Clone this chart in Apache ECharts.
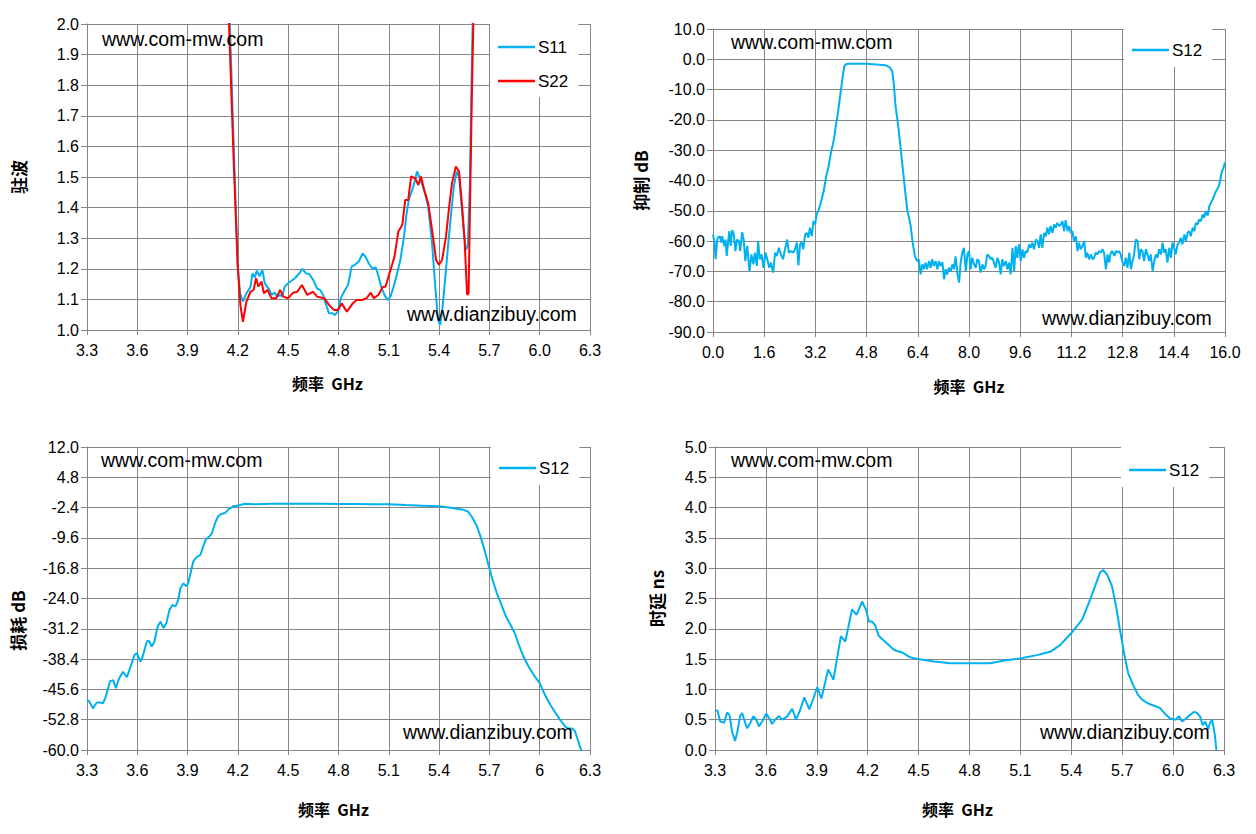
<!DOCTYPE html>
<html><head><meta charset="utf-8">
<script src="https://cdn.jsdelivr.net/npm/echarts@6/dist/echarts.min.js"></script>
<style>html,body{margin:0;padding:0;background:#fff}#c{width:1256px;height:834px}</style>
</head><body><div id="c"></div>
<script>
// ---------- DATA (frequency GHz, value) ----------
const s11Vswr = [[4.13,2.4],[4.152,2.0],[4.178,1.55],[4.199,1.21],[4.213,1.12],[4.230,1.093],[4.251,1.12],[4.275,1.14],[4.287,1.185],[4.301,1.172],[4.313,1.194],[4.329,1.175],[4.346,1.196],[4.360,1.153],[4.376,1.14],[4.388,1.131],[4.400,1.115],[4.419,1.122],[4.436,1.109],[4.452,1.115],[4.464,1.109],[4.478,1.14],[4.495,1.151],[4.518,1.16],[4.542,1.17],[4.566,1.185],[4.585,1.20],[4.606,1.185],[4.625,1.183],[4.649,1.164],[4.672,1.136],[4.691,1.13],[4.708,1.115],[4.724,1.085],[4.743,1.055],[4.762,1.055],[4.779,1.049],[4.795,1.06],[4.814,1.104],[4.833,1.125],[4.857,1.147],[4.878,1.207],[4.897,1.213],[4.921,1.224],[4.944,1.25],[4.961,1.24],[4.980,1.218],[5.003,1.20],[5.022,1.205],[5.039,1.175],[5.055,1.14],[5.074,1.115],[5.091,1.098],[5.110,1.109],[5.129,1.142],[5.145,1.175],[5.169,1.229],[5.188,1.294],[5.205,1.376],[5.221,1.43],[5.240,1.458],[5.257,1.49],[5.268,1.518],[5.283,1.50],[5.299,1.474],[5.316,1.447],[5.335,1.403],[5.358,1.284],[5.377,1.142],[5.394,1.033],[5.406,1.016],[5.418,1.06],[5.434,1.153],[5.453,1.273],[5.472,1.382],[5.488,1.469],[5.505,1.518],[5.519,1.50],[5.531,1.425],[5.548,1.316],[5.559,1.262],[5.571,1.273],[5.583,1.47],[5.595,1.86],[5.604,2.1],[5.62,2.6]];
const s22Vswr = [[4.13,2.4],[4.147,2.0],[4.175,1.55],[4.199,1.207],[4.215,1.08],[4.230,1.027],[4.251,1.093],[4.275,1.125],[4.294,1.131],[4.308,1.169],[4.322,1.142],[4.341,1.158],[4.355,1.120],[4.376,1.131],[4.400,1.104],[4.429,1.104],[4.452,1.131],[4.471,1.109],[4.500,1.104],[4.530,1.122],[4.554,1.125],[4.582,1.147],[4.613,1.115],[4.649,1.125],[4.672,1.109],[4.715,1.104],[4.743,1.082],[4.774,1.065],[4.798,1.065],[4.819,1.087],[4.850,1.060],[4.885,1.087],[4.909,1.098],[4.940,1.098],[4.968,1.104],[4.992,1.122],[5.011,1.104],[5.039,1.115],[5.063,1.140],[5.081,1.142],[5.110,1.196],[5.134,1.240],[5.157,1.322],[5.181,1.344],[5.198,1.425],[5.216,1.425],[5.233,1.502],[5.257,1.496],[5.276,1.474],[5.292,1.502],[5.311,1.458],[5.335,1.414],[5.358,1.327],[5.382,1.229],[5.399,1.213],[5.418,1.229],[5.441,1.305],[5.460,1.403],[5.477,1.480],[5.500,1.534],[5.519,1.518],[5.536,1.414],[5.552,1.294],[5.567,1.115],[5.576,1.120],[5.585,1.425],[5.595,1.752],[5.604,2.0],[5.62,2.5]];
const s12Rejection = [[0.00,-57.8],[0.05,-60.5],[0.08,-66.0],[0.14,-58.9],[0.21,-58.4],[0.26,-60.5],[0.29,-58.4],[0.35,-61.6],[0.39,-59.5],[0.43,-64.9],[0.47,-60.5],[0.51,-56.7],[0.55,-61.6],[0.60,-56.4],[0.65,-57.8],[0.70,-63.3],[0.75,-59.5],[0.81,-60.0],[0.85,-63.3],[0.91,-57.0],[0.96,-59.5],[1.01,-66.6],[1.07,-61.6],[1.14,-69.9],[1.20,-64.4],[1.26,-67.7],[1.31,-63.8],[1.37,-68.2],[1.41,-60.0],[1.46,-66.0],[1.52,-64.4],[1.58,-68.8],[1.64,-63.8],[1.71,-66.6],[1.76,-68.8],[1.81,-67.1],[1.88,-70.4],[1.94,-63.8],[1.99,-64.9],[2.06,-62.2],[2.12,-64.4],[2.19,-66.0],[2.25,-62.7],[2.32,-59.5],[2.37,-63.8],[2.44,-63.3],[2.51,-63.8],[2.56,-62.7],[2.62,-60.5],[2.67,-68.0],[2.72,-61.1],[2.77,-60.3],[2.82,-62.7],[2.88,-57.8],[2.93,-57.3],[2.98,-58.9],[3.03,-55.6],[3.09,-58.4],[3.14,-53.4],[3.19,-54.5],[3.24,-51.2],[3.30,-49.6],
  [3.35,-48],[3.40,-46],[3.45,-44],[3.50,-41],[3.55,-38],[3.60,-36],[3.65,-33],[3.70,-30],[3.75,-28],[3.80,-25],[3.85,-21],[3.90,-18],[3.95,-14],[4.00,-10],[4.05,-6],[4.10,-2.5],[4.15,-1.6],[4.25,-1.5],[4.5,-1.5],[4.8,-1.5],[5.0,-1.6],[5.2,-1.8],[5.4,-2.0],[5.5,-2.5],[5.55,-3.0],[5.6,-4.0],[5.65,-8],[5.7,-15],[5.75,-19],[5.8,-23],[5.85,-28],[5.9,-33],[5.95,-38],[6.0,-43],[6.07,-49.6],[6.17,-54.5],[6.24,-60.5],[6.31,-65.0],[6.38,-66.6],[6.43,-66.0],[6.49,-71.0],[6.54,-67.7],[6.59,-69.3],[6.64,-67.1],[6.69,-69.3],[6.75,-66.6],[6.80,-68.8],[6.85,-66.0],[6.90,-68.2],[6.96,-66.6],[7.01,-69.3],[7.06,-66.6],[7.11,-68.2],[7.17,-67.0],[7.22,-72.6],[7.27,-69.3],[7.32,-71.0],[7.37,-68.8],[7.43,-70.0],[7.48,-67.7],[7.53,-69.3],[7.58,-65.0],[7.64,-71.0],[7.69,-73.7],[7.74,-67.1],
  [7.79,-63.8],[7.84,-62.2],[7.90,-69.9],[7.95,-64.4],[8.00,-63.3],[8.05,-69.3],[8.10,-65.5],[8.16,-67.7],[8.21,-68.8],[8.26,-66.0],[8.31,-66.6],[8.36,-70.4],[8.42,-67.7],[8.47,-69.3],[8.52,-68.2],[8.57,-64.4],[8.63,-64.9],[8.68,-66.0],[8.73,-65.5],[8.78,-67.1],[8.83,-68.8],[8.89,-65.5],[8.94,-67.1],[8.99,-71.0],[9.04,-66.0],[9.09,-68.2],[9.15,-66.6],[9.20,-69.3],[9.25,-67.1],[9.30,-71.0],[9.36,-62.2],[9.41,-69.9],[9.46,-61.6],[9.51,-65.5],[9.56,-61.1],[9.62,-66.6],[9.67,-62.7],[9.72,-65.5],[9.77,-63.3],[9.82,-63.8],[9.88,-61.1],[9.93,-62.2],[9.98,-60.5],[10.03,-62.7],[10.09,-59.5],[10.14,-60.0],[10.19,-62.2],[10.24,-57.8],[10.29,-62.2],[10.35,-57.3],[10.40,-58.4],[10.45,-55.6],[10.50,-57.8],[10.55,-55.0],[10.61,-57.3],[10.66,-54.5],[10.71,-55.6],[10.76,-54.0],[10.82,-55.0],[10.87,-54.5],[10.92,-53.4],[10.97,-56.7],[11.02,-53.1],[11.08,-56.7],[11.13,-55.0],[11.18,-57.3],[11.23,-56.7],[11.28,-60.0],[11.34,-58.4],[11.39,-63.3],[11.44,-60.5],[11.49,-62.7],[11.55,-61.6],[11.60,-60.0],[11.65,-65.5],[11.70,-63.8],[11.75,-66.0],[11.81,-64.4],[11.86,-66.0],[11.91,-65.5],[11.96,-63.8],[12.01,-64.4],[12.07,-63.3],[12.12,-63.8],[12.17,-62.7],[12.22,-63.8],[12.28,-69.3],[12.33,-64.4],[12.38,-67.1],[12.43,-63.8],[12.48,-63.3],[12.54,-64.9],[12.59,-63.3],[12.64,-63.8],[12.69,-63.3],[12.74,-64.4],[12.80,-67.1],[12.85,-68.2],[12.90,-65.5],[12.95,-68.8],[13.01,-63.8],[13.06,-69.3],[13.11,-66.6],[13.16,-64.4],[13.21,-59.5],[13.27,-60.0],[13.32,-66.0],[13.37,-62.7],[13.42,-63.3],[13.47,-66.6],[13.53,-62.7],[13.58,-64.4],[13.63,-66.6],[13.68,-64.4],[13.74,-69.9],[13.79,-66.6],[13.84,-64.4],[13.89,-65.5],[13.94,-62.7],[14.00,-64.4],[14.05,-60.5],[14.10,-63.8],[14.15,-62.7],[14.20,-67.1],[14.26,-62.2],[14.31,-65.5],[14.36,-60.5],[14.41,-62.2],[14.46,-64.4],[14.52,-61.1],[14.57,-60.5],[14.62,-58.9],[14.67,-61.1],[14.73,-57.8],[14.78,-60.0],[14.83,-57.3],[14.88,-56.7],[14.93,-58.4],[14.99,-55.6],[15.04,-56.7],[15.09,-54.0],[15.14,-54.5],[15.19,-52.9],[15.25,-53.4],[15.30,-51.2],[15.35,-52.3],[15.40,-50.1],[15.46,-51.6],[15.51,-48.5],[15.56,-47.4],[15.61,-46.3],[15.7,-44],[15.8,-42],[15.85,-40],[15.9,-37],[15.95,-36],[16.0,-34]];
const s12Loss = [[3.300,-48.1],[3.314,-48.5],[3.335,-50.1],[3.359,-48.7],[3.378,-48.7],[3.395,-48.9],[3.409,-47.7],[3.437,-43.7],[3.456,-43.4],[3.472,-45.3],[3.491,-43.0],[3.515,-41.4],[3.538,-42.7],[3.560,-40.2],[3.584,-37.4],[3.598,-37.0],[3.619,-39.0],[3.631,-37.9],[3.657,-34.2],[3.669,-34.0],[3.686,-35.4],[3.702,-34.2],[3.721,-30.7],[3.738,-29.5],[3.757,-31.0],[3.773,-29.9],[3.792,-26.7],[3.811,-25.5],[3.828,-25.9],[3.844,-24.3],[3.858,-21.5],[3.875,-20.4],[3.892,-21.1],[3.903,-20.4],[3.920,-17.6],[3.934,-15.2],[3.953,-14.2],[3.977,-13.6],[3.993,-11.6],[4.010,-9.9],[4.029,-9.3],[4.045,-8.5],[4.064,-6.1],[4.081,-4.5],[4.100,-3.9],[4.123,-3.7],[4.147,-2.7],[4.171,-2.1],[4.204,-1.9],[4.242,-1.5],[4.30,-1.6],[4.40,-1.5],[4.50,-1.5],[4.60,-1.5],[4.70,-1.5],[4.80,-1.55],[4.90,-1.55],[5.00,-1.6],[5.10,-1.6],[5.20,-1.8],[5.30,-1.95],[5.40,-2.1],[5.50,-2.6],[5.543,-2.9],[5.571,-3.3],[5.597,-4.7],[5.626,-6.9],[5.650,-9.6],[5.673,-12.8],[5.697,-16.4],[5.716,-19.2],[5.744,-22.7],[5.768,-25.1],[5.799,-28.3],[5.822,-30.0],[5.851,-32.2],[5.879,-35.4],[5.903,-37.8],[5.934,-40.2],[5.965,-42.2],[6.000,-44.1],[6.036,-47.3],[6.064,-49.3],[6.093,-51.1],[6.123,-52.9],[6.154,-54.5],[6.171,-54.9],[6.194,-54.9],[6.211,-55.6],[6.237,-58.8],[6.25,-60.4]];
const s12Delay = [[3.300,0.65],[3.314,0.65],[3.331,0.47],[3.354,0.45],[3.371,0.62],[3.385,0.58],[3.401,0.30],[3.418,0.15],[3.432,0.30],[3.448,0.56],[3.460,0.61],[3.472,0.50],[3.489,0.36],[3.507,0.44],[3.526,0.56],[3.543,0.50],[3.559,0.39],[3.578,0.47],[3.602,0.60],[3.621,0.52],[3.637,0.43],[3.654,0.50],[3.677,0.56],[3.696,0.50],[3.724,0.55],[3.755,0.68],[3.778,0.50],[3.802,0.66],[3.826,0.87],[3.856,0.67],[3.880,0.85],[3.903,1.04],[3.927,0.85],[3.967,1.33],[3.998,1.16],[4.042,1.88],[4.068,1.79],[4.108,2.32],[4.134,2.23],[4.167,2.45],[4.191,2.31],[4.207,2.12],[4.226,2.12],[4.243,2.06],[4.266,1.88],[4.309,1.77],[4.356,1.65],[4.403,1.61],[4.450,1.53],[4.497,1.50],[4.592,1.46],[4.686,1.43],[4.799,1.43],[4.921,1.43],[5.016,1.48],[5.098,1.51],[5.204,1.57],[5.275,1.62],[5.334,1.73],[5.400,1.93],[5.464,2.15],[5.511,2.48],[5.546,2.75],[5.570,2.93],[5.588,2.97],[5.612,2.89],[5.640,2.70],[5.664,2.37],[5.687,1.98],[5.711,1.60],[5.735,1.27],[5.765,1.07],[5.793,0.91],[5.817,0.83],[5.852,0.77],[5.888,0.73],[5.923,0.69],[5.958,0.58],[5.982,0.52],[6.017,0.50],[6.034,0.56],[6.053,0.47],[6.076,0.52],[6.100,0.58],[6.124,0.63],[6.142,0.61],[6.159,0.55],[6.175,0.41],[6.189,0.47],[6.206,0.34],[6.218,0.45],[6.230,0.50],[6.246,0.25],[6.255,0.0]];

const watermarkTop = 'www.com-mw.com';
const watermarkBottom = 'www.dianzibuy.com';
const xName = '频率  GHz';
const yNames = ['驻波', '抑制 dB', '损耗 dB', '时延 ns'];

// ---------- LAYOUT / STYLE ----------
const BLUE = '#00B0F0', RED = '#FF0000', GRID = '#868686';
const FONT = "'Liberation Sans', Arial, sans-serif";
const CJK = "'Noto Sans CJK SC', 'Liberation Serif', serif";
const grids = [
  {left: 87, top: 24, width: 503, height: 306},
  {left: 713, top: 29, width: 512, height: 303},
  {left: 87, top: 447, width: 503, height: 303},
  {left: 715, top: 447, width: 509, height: 303}
];
const fix1 = v => { if (Math.abs(v) < 1e-9) v = 0; return v.toFixed(1); };
const gen = v => String(+v.toFixed(2));

function xAxis(i, min, max, interval, fmt, gap, padR) {
  return {
    type: 'value', gridIndex: i, min, max, interval,
    name: xName, nameLocation: 'middle', nameGap: gap,
    nameTextStyle: {fontFamily: CJK, fontWeight: 'bold', fontSize: 16, color: '#000', padding: [0, padR, 0, 0]},
    axisLine: {show: true, onZero: false, lineStyle: {color: GRID, width: 1}},
    axisTick: {show: true, length: 5, lineStyle: {color: GRID}},
    axisLabel: {fontFamily: FONT, fontSize: 16, color: '#000', margin: 12, formatter: fmt, showMinLabel: true, showMaxLabel: true},
    splitLine: {show: true, lineStyle: {color: GRID, width: 1}}
  };
}
function yAxis(i, min, max, interval, gap, padR) {
  return {
    type: 'value', gridIndex: i, min, max, interval,
    name: yNames[i], nameLocation: 'middle', nameGap: gap,
    nameTextStyle: {fontFamily: CJK, fontWeight: 'bold', fontSize: 17, color: '#000', padding: [0, padR, 0, 0]},
    axisLine: {show: true, onZero: false, lineStyle: {color: GRID, width: 1}},
    axisTick: {show: true, length: 6, lineStyle: {color: GRID}},
    axisLabel: {fontFamily: FONT, fontSize: 16, color: '#000', margin: 8, formatter: fix1, showMinLabel: true, showMaxLabel: true},
    splitLine: {show: true, lineStyle: {color: GRID, width: 1}}
  };
}
function legend(left, top, names, padTop, padBot) {
  return {
    left, top, orient: 'vertical', data: names, itemGap: 17,
    icon: 'rect', itemWidth: 37, itemHeight: 2.5, backgroundColor: '#fff',
    padding: [padTop, 10, padBot, 8], selectedMode: false,
    textStyle: {fontFamily: FONT, fontSize: 17, color: '#000', padding: [0, 0, 0, -2]}
  };
}
function line(name, data, i, color) {
  return {
    name, type: 'line', data, xAxisIndex: i, yAxisIndex: i,
    symbol: 'none', showSymbol: false, smooth: false, clip: true,
    lineStyle: {color, width: 2}, itemStyle: {color}, animation: false
  };
}
function wm(text, left, cy) {
  return {type: 'text', left, top: cy - 11, z: 50,
    style: {text, fill: '#000', font: "19.5px 'Liberation Sans', Arial, sans-serif"}};
}

const chart = echarts.init(document.getElementById('c'), null, {renderer: 'svg'});
chart.setOption({
  backgroundColor: '#fff',
  animation: false,
  grid: grids.map(g => Object.assign({containLabel: false}, g)),
  xAxis: [
    xAxis(0, 3.3, 6.3, 0.3, fix1, 45, 22),
    xAxis(1, 0, 16, 1.6, fix1, 46, 0),
    xAxis(2, 3.3, 6.3, 0.3, gen, 51, 10),
    xAxis(3, 3.3, 6.3, 0.3, fix1, 51, 24)
  ],
  yAxis: [
    yAxis(0, 1.0, 2.0, 0.1, 60, 0),
    yAxis(1, -90, 10, 10, 64, 0),
    yAxis(2, -60, 12, 7.2, 61, 44),
    yAxis(3, 0, 5, 0.5, 50, 0)
  ],
  legend: [
    legend(490, 24, ['S11', 'S22'], 14.5, 7.5),
    legend(1124, 29, [{name: 'S12'}], 12.5, 8.5),
    legend(491, 447, [{name: 'S12'}], 12.5, 8.5),
    legend(1121, 447, [{name: 'S12'}], 14.5, 8.5)
  ],
  graphic: [
    wm(watermarkTop, 102, 40), wm(watermarkBottom, 407, 315),
    wm(watermarkTop, 731, 43), wm(watermarkBottom, 1042, 319),
    wm(watermarkTop, 101, 461), wm(watermarkBottom, 403, 733),
    wm(watermarkTop, 731, 461), wm(watermarkBottom, 1040, 733)
  ],
  series: [
    line('S11', s11Vswr, 0, BLUE),
    line('S22', s22Vswr, 0, RED),
    line('S12', s12Rejection, 1, BLUE),
    line('S12', s12Loss, 2, BLUE),
    line('S12', s12Delay, 3, BLUE)
  ]
});
</script></body></html>
